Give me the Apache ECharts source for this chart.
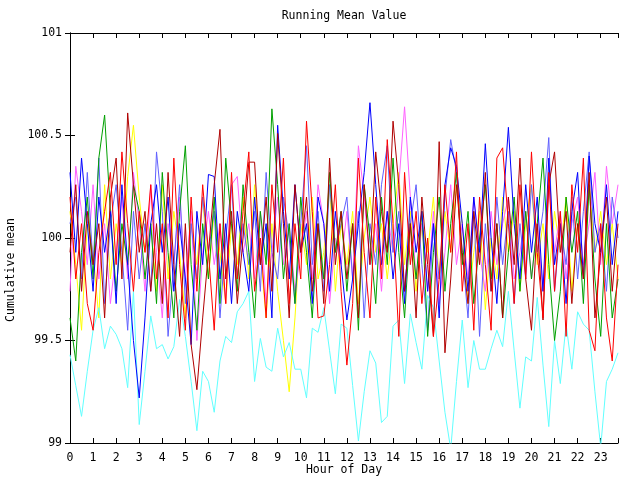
<!DOCTYPE html>
<html>
<head>
<meta charset="utf-8">
<script src="https://cdn.jsdelivr.net/npm/echarts@6/dist/echarts.min.js"></script>
<style>html,body{margin:0;padding:0;background:#fff}#c{width:640px;height:480px}</style>
</head>
<body>
<div id="c"></div>
<script>
var xTicks = [0,1,2,3,4,5,6,7,8,9,10,11,12,13,14,15,16,17,18,19,20,21,22,23];
var yTicks = [99, 99.5, 100, 100.5, 101];
var hours = [];
for (var i = 0; i < 96; i++) hours.push(i * 0.25);

var red = [100.20,99.80,100.07,99.68, 99.55,99.93,100.13,100.32, 99.87,100.42,100.07,99.74, 100.13,99.93,100.26,99.80,
 100.07,99.61,100.39,99.87, 99.55,100.20,99.74,100.26, 99.93,99.55,100.07,99.68, 100.32,99.80,100.13,100.42,
 99.74,100.00,99.61,100.26, 99.93,100.39,99.68,100.07, 99.80,100.57,100.13,99.61, 99.62,99.87,100.26,99.74,
 99.38,99.68,100.39,99.93, 99.61,100.20,99.80,100.48, 100.07,99.52,100.32,99.87, 100.13,99.68,100.00,99.52,
 99.80,100.26,99.93,100.42, 99.74,100.07,99.55,100.20, 99.87,99.55,100.39,100.44, 100.07,99.68,100.26,99.80,
 100.42,99.93,99.61,100.32, 99.74,100.13,99.52,100.26, 99.93,100.39,99.55,99.45, 100.07,99.61,99.40,99.87];
var darkred = [99.93,100.26,99.74,100.13, 99.87,100.07,99.61,100.20, 100.39,99.80,100.61,100.26, 99.93,100.13,99.74,100.07,
 99.68,100.32,99.87,99.52, 100.07,99.48,99.26,99.61, 99.93,100.26,100.53,99.80, 100.13,99.68,100.00,100.37,
 100.37,99.87,100.20,99.74, 100.51,100.07,99.61,100.26, 99.93,100.20,99.74,100.07, 99.68,100.39,99.87,100.13,
 99.80,100.07,99.61,100.26, 99.87,100.42,100.13,99.93, 100.57,100.26,99.74,100.07, 99.61,100.20,99.87,99.52,
 100.47,99.44,99.80,100.26, 99.93,99.68,100.13,99.87, 100.32,99.74,100.07,99.61, 100.20,99.87,100.39,99.80,
 99.55,100.07,99.60,100.26, 100.42,99.93,100.13,99.68, 100.07,99.80,100.32,99.61, 99.93,100.20,99.74,100.07];
var green = [99.61,99.40,99.93,100.20, 99.80,100.39,100.60,100.13, 99.74,100.07,99.87,100.26, 100.13,99.80,100.07,99.68,
 100.32,99.93,99.61,100.13, 100.45,99.87,99.55,100.07, 99.80,100.20,99.68,100.39, 100.07,99.74,100.26,99.93,
 99.61,100.13,99.87,100.63, 100.26,99.80,100.07,99.68, 100.20,99.93,99.61,100.07, 99.80,100.32,99.93,100.13,
 99.74,100.07,99.55,100.26, 100.00,99.68,100.20,99.87, 100.39,99.93,99.61,100.07, 99.80,100.13,99.52,99.93,
 100.20,99.74,100.07,100.32, 99.87,100.13,99.68,100.00, 100.26,99.80,100.07,99.61, 99.93,100.20,99.74,100.13,
 99.80,100.07,100.39,99.87, 99.50,99.74,100.20,99.93, 100.13,99.68,100.26,99.80, 99.52,100.07,99.61,99.80];
var blue = [100.32,99.93,100.39,100.07, 99.74,100.20,99.93,100.13, 99.68,100.26,99.87,99.50, 99.22,99.61,100.07,100.26,
 99.93,100.20,99.74,100.07, 99.80,99.48,100.13,99.87, 100.31,100.30,99.80,100.07, 99.68,100.13,99.93,99.74,
 100.20,99.87,100.07,99.61, 100.55,100.13,99.80,100.26, 99.93,100.07,99.68,100.20, 100.07,99.74,100.13,99.87,
 99.60,99.80,100.07,100.32, 100.66,100.26,99.87,100.13, 99.80,100.07,99.68,100.20, 99.93,100.13,99.74,100.07,
 99.61,100.26,100.44,100.35, 100.07,99.74,100.20,99.93, 100.46,100.00,99.68,100.13, 100.54,100.07,99.80,100.26,
 99.93,100.20,99.74,100.39, 99.87,100.07,99.68,100.13, 100.32,99.80,100.40,100.07, 99.93,100.26,99.87,100.13];
var lightblue = [100.07,100.20,99.80,100.32, 99.87,100.39,99.68,100.07, 100.26,99.93,99.55,100.13, 99.80,100.07,99.74,100.42,
 100.13,99.52,99.87,100.26, 99.68,100.07,99.80,100.20, 99.93,100.13,99.61,100.00, 100.26,99.80,100.07,99.87,
 100.13,99.74,100.32,99.93, 99.80,100.20,100.00,99.68, 100.07,100.45,99.87,100.13, 99.74,100.26,99.93,100.07,
 100.20,99.80,100.13,99.61, 100.07,99.87,100.26,100.45, 99.93,100.13,99.74,100.07, 100.26,99.87,99.55,100.07,
 99.80,100.20,100.48,100.32, 99.93,99.61,100.13,99.52, 100.07,99.74,100.20,99.87, 100.13,99.68,100.07,99.80,
 100.26,99.93,100.13,100.49, 99.74,100.07,99.87,100.20, 99.80,100.13,100.42,99.93, 100.07,99.74,100.20,100.00];
var magenta = [99.74,100.35,100.13,99.87, 100.26,99.80,100.07,99.68, 99.93,100.20,99.80,100.32, 100.07,99.74,100.26,99.93,
 99.61,100.07,99.87,100.20, 99.80,100.13,99.50,99.93, 100.13,99.87,100.07,99.68, 100.26,100.30,99.93,100.07,
 99.80,100.13,99.68,99.93, 100.20,99.87,100.07,99.74, 99.93,100.13,99.80,100.26, 100.07,99.68,100.00,99.87,
 100.13,99.80,100.45,100.20, 99.87,100.07,99.74,100.13, 99.93,100.26,100.64,100.20, 99.80,100.07,99.74,100.13,
 99.68,99.93,100.26,99.87, 100.07,99.80,100.20,99.93, 99.74,100.13,99.87,100.07, 100.20,99.80,99.93,100.13,
 99.80,100.07,99.74,100.26, 99.93,100.13,99.80,100.07, 100.20,99.87,100.07,100.32, 99.87,100.35,100.07,100.26];
var yellow = [100.13,99.87,99.55,100.07, 99.93,99.61,100.26,99.80, 100.07,99.87,100.30,100.55, 100.20,99.93,100.07,99.74,
 100.26,99.80,100.13,99.93, 99.61,100.07,99.87,100.20, 99.80,100.13,99.93,99.68, 100.07,99.87,100.20,99.80,
 100.26,99.93,99.61,100.07, 99.74,99.50,99.25,99.61, 100.07,99.87,100.20,99.80, 99.93,100.26,99.74,100.07,
 99.87,100.13,99.68,100.00, 100.20,99.93,100.07,99.80, 100.07,100.32,99.87,100.13, 99.74,100.07,99.93,100.20,
 99.80,100.13,99.93,100.26, 100.07,99.68,99.93,100.13, 99.65,100.00,99.80,100.20, 99.93,100.13,99.74,100.07,
 100.26,99.87,100.07,99.80, 100.13,99.93,100.20,99.74, 100.07,99.80,100.26,99.93, 100.13,99.87,100.07,99.80];
var cyan = [99.43,99.28,99.13,99.35, 99.55,99.66,99.46,99.57, 99.53,99.46,99.27,99.74, 99.09,99.35,99.62,99.46,
 99.48,99.41,99.47,99.70, 99.52,99.30,99.06,99.35, 99.30,99.15,99.40,99.52, 99.49,99.64,99.68,99.74,
 99.30,99.51,99.37,99.35, 99.56,99.42,99.49,99.36, 99.36,99.22,99.56,99.54, 99.66,99.45,99.24,99.58,
 99.56,99.28,99.01,99.25, 99.45,99.39,99.10,99.13, 99.57,99.60,99.29,99.63, 99.49,99.36,99.72,99.66,
 99.40,99.15,98.97,99.30, 99.60,99.27,99.50,99.36, 99.36,99.46,99.55,99.47, 99.74,99.45,99.17,99.42,
 99.40,99.71,99.38,99.08, 99.50,99.29,99.58,99.36, 99.64,99.58,99.55,99.25, 98.98,99.30,99.36,99.44];

var seriesDefs = [
  {name:'yellow', data:yellow, color:'#ffff00'},
  {name:'magenta', data:magenta, color:'#ff60ff'},
  {name:'lightblue', data:lightblue, color:'#6060ff'},
  {name:'cyan', data:cyan, color:'#60ffff'},
  {name:'green', data:green, color:'#00a000'},
  {name:'blue', data:blue, color:'#0000ff'},
  {name:'darkred', data:darkred, color:'#b00000'},
  {name:'red', data:red, color:'#ff0000'}
];

var FONT = 'DejaVu Sans Mono';
var chart = echarts.init(document.getElementById('c'), null, {renderer:'canvas'});
var axisCommon = {
  axisLine:{show:true, lineStyle:{color:'#000', width:1}},
  axisTick:{show:true, inside:true, length:5, lineStyle:{color:'#000'}},
  splitLine:{show:false}
};
chart.setOption({
  animation:false,
  backgroundColor:'#fff',
  grid:{left:70, right:22, top:33, bottom:37},
  xAxis:[
    Object.assign({type:'value', min:0, max:23.75, interval:1, position:'bottom',
      axisLabel:{color:'#000', fontFamily:FONT, fontSize:11.5, margin:9,
        formatter:function(v){return xTicks.indexOf(v)>=0 ? String(v) : '';}}}, axisCommon),
    Object.assign({type:'value', min:0, max:23.75, interval:1, position:'top',
      axisLabel:{show:false}}, axisCommon)
  ],
  yAxis:[
    Object.assign({type:'value', min:99, max:101, interval:0.5, position:'left',
      axisLabel:{color:'#000', fontFamily:FONT, fontSize:11.5, margin:8,
        formatter:function(v){return yTicks.indexOf(v)>=0 ? String(v) : '';}}}, axisCommon),
    Object.assign({type:'value', min:99, max:101, interval:0.5, position:'right',
      axisLabel:{show:false}}, axisCommon)
  ],
  series: seriesDefs.map(function(s){
    return {type:'line', name:s.name, xAxisIndex:0, yAxisIndex:0,
      data: s.data.map(function(v,i){return [hours[i], v];}),
      showSymbol:false, symbol:'none', clip:true,
      lineStyle:{color:s.color, width:1}, itemStyle:{color:s.color}};
  }),
  graphic:[
    {type:'text', x:344, y:16, style:{text:'Running Mean Value', fill:'#000', font:'11.5px "DejaVu Sans Mono"', textAlign:'center', textVerticalAlign:'middle'}},
    {type:'text', x:344, y:470, style:{text:'Hour of Day', fill:'#000', font:'11.5px "DejaVu Sans Mono"', textAlign:'center', textVerticalAlign:'middle'}},
    {type:'text', x:11, y:270, rotation:Math.PI/2, style:{text:'Cumulative mean', fill:'#000', font:'11.5px "DejaVu Sans Mono"', textAlign:'center', textVerticalAlign:'middle'}}
  ]
});
</script>
</body>
</html>
